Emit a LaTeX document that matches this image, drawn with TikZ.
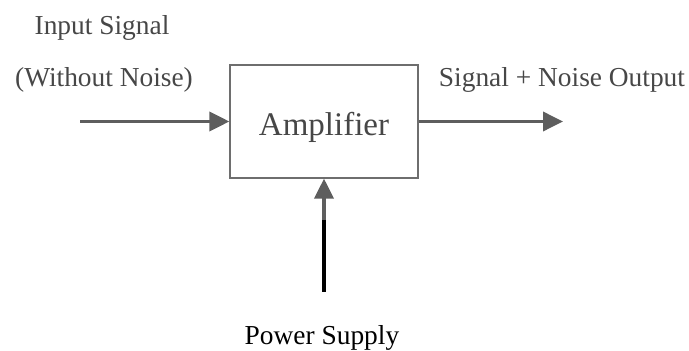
\documentclass[tikz,border=0pt]{standalone}
\usepackage{fontspec}
\setmainfont{Liberation Serif}
\usetikzlibrary{arrows.meta, positioning}
\definecolor{linegray}{HTML}{5E5E5E}
\definecolor{textgray}{HTML}{474747}
\definecolor{boxgray}{HTML}{6E6E6E}

\begin{document}
\begin{tikzpicture}[
    x=0.5pt, y=-0.5pt,
    block/.style={draw=boxgray, line width=0.6pt, minimum width=94pt, minimum height=56.5pt, inner sep=0pt, font=\fontsize{16.5}{18}\selectfont, text=textgray, text height=20pt, text depth=5.5pt},
    arrow/.style={-{Triangle[length=10pt, width=9.5pt]}, line width=1.8pt, draw=linegray},
    sigtext/.style={anchor=base, inner sep=0pt, font=\fontsize{13.7}{16}\selectfont, text=textgray}
]
\useasboundingbox (0,0) rectangle (689,351);

% Amplifier block
\node[block] (amp) at (324,121.5) {Amplifier};

% Labels
\node[sigtext] (insig) at (102,35) {Input Signal};
\node[sigtext] (innoise) at (104,87) {(Without Noise)};
\node[sigtext] (outsig) at (562,87) {Signal + Noise Output};
\node[sigtext, text=black] (power) at (322,345) {Power Supply};

% Free ends of the connectors
\coordinate (insrc) at (80,121.5);
\coordinate (outend) at (563,121.5);
\coordinate (psrc) at (324,292);
\coordinate (pmid) at (324,220);

% Signal path
\draw[arrow] (insrc) -- (amp.west);
\draw[arrow] (amp.east) -- (outend);

% Supply (black lower shaft, grey upper part)
\draw[line width=1.8pt, black] (psrc) -- (pmid);
\draw[arrow] (pmid) -- (amp.south);

\end{tikzpicture}
\end{document}
